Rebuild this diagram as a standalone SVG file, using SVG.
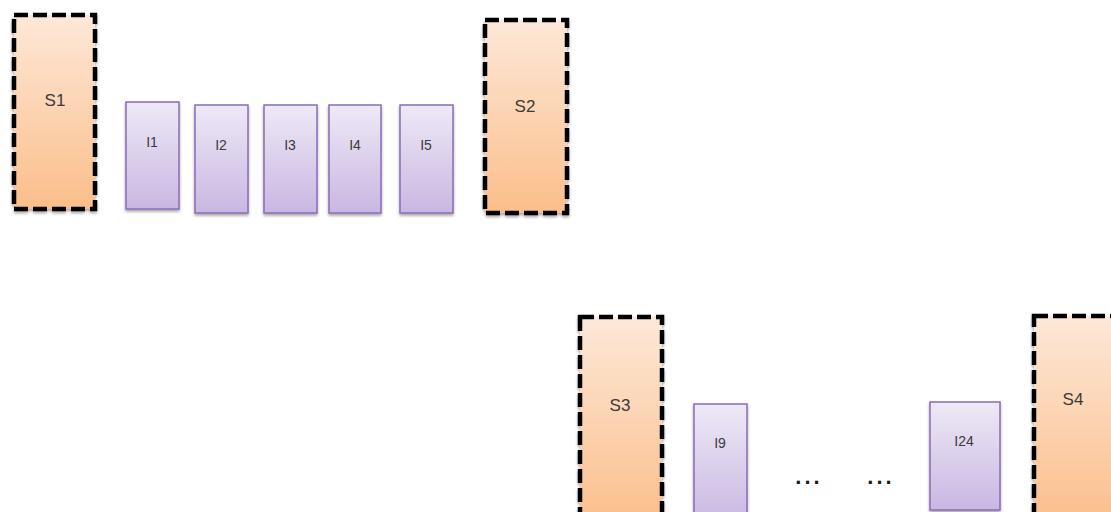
<svg xmlns="http://www.w3.org/2000/svg" width="1111" height="512" viewBox="0 0 1111 512">
<defs>
<linearGradient id="og" x1="0" y1="0" x2="0" y2="1">
<stop offset="0" stop-color="#fde8d8"/>
<stop offset="1" stop-color="#fbbe8a"/>
</linearGradient>
<linearGradient id="pg" x1="0" y1="0" x2="0" y2="1">
<stop offset="0" stop-color="#eee9f6"/>
<stop offset="1" stop-color="#c9b7e2"/>
</linearGradient>
<filter id="sh" x="-20%" y="-20%" width="140%" height="140%">
<feGaussianBlur in="SourceAlpha" stdDeviation="1.5"/>
<feOffset dx="0" dy="2" result="b"/>
<feComponentTransfer><feFuncA type="linear" slope="0.35"/></feComponentTransfer>
<feMerge><feMergeNode/><feMergeNode in="SourceGraphic"/></feMerge>
</filter>
</defs>
<style>
.s{fill:url(#og);stroke:#000;stroke-width:4.5;stroke-dasharray:14 5;filter:url(#sh)}
.i{fill:url(#pg);stroke:#8a6bb5;stroke-width:1.5;filter:url(#sh)}
.ts{font-family:"Liberation Sans",Arial,sans-serif;font-size:17px;fill:#3a3a3a;text-anchor:middle}
.ti{font-family:"Liberation Sans",Arial,sans-serif;font-size:14px;fill:#3a3a3a;text-anchor:middle}
.d{font-family:"Liberation Sans",Arial,sans-serif;font-size:22px;font-weight:bold;fill:#1a1a1a;text-anchor:middle;letter-spacing:3px}
</style>
<g id="S1"><rect class="s" x="14" y="15" width="81" height="194"/><text class="ts" x="55" y="106">S1</text></g>
<g id="I1"><rect class="i" x="126" y="102" width="53" height="107"/><text class="ti" x="152" y="147">I1</text></g>
<g id="I2"><rect class="i" x="195" y="105" width="53" height="108"/><text class="ti" x="221" y="150">I2</text></g>
<g id="I3"><rect class="i" x="264" y="105" width="53" height="108"/><text class="ti" x="290" y="150">I3</text></g>
<g id="I4"><rect class="i" x="329" y="105" width="52" height="108"/><text class="ti" x="355" y="150">I4</text></g>
<g id="I5"><rect class="i" x="400" y="105" width="53" height="108"/><text class="ti" x="426" y="150">I5</text></g>
<g id="S2"><rect class="s" x="485" y="20" width="82" height="193"/><text class="ts" x="525" y="112">S2</text></g>
<g id="S3"><rect class="s" x="580" y="317" width="82" height="210"/><text class="ts" x="620" y="411">S3</text></g>
<g id="I9"><rect class="i" x="694" y="404" width="53" height="120"/><text class="ti" x="720" y="448">I9</text></g>
<g id="I24"><rect class="i" x="930" y="402" width="70" height="108"/><text class="ti" x="964" y="446">I24</text></g>
<g id="S4"><rect class="s" x="1034" y="316" width="90" height="210"/><text class="ts" x="1073" y="405">S4</text></g>
<g id="connectors"></g>
<g id="ellipses"><text class="d" x="809" y="484">...</text><text class="d" x="881" y="484">...</text></g>
</svg>
